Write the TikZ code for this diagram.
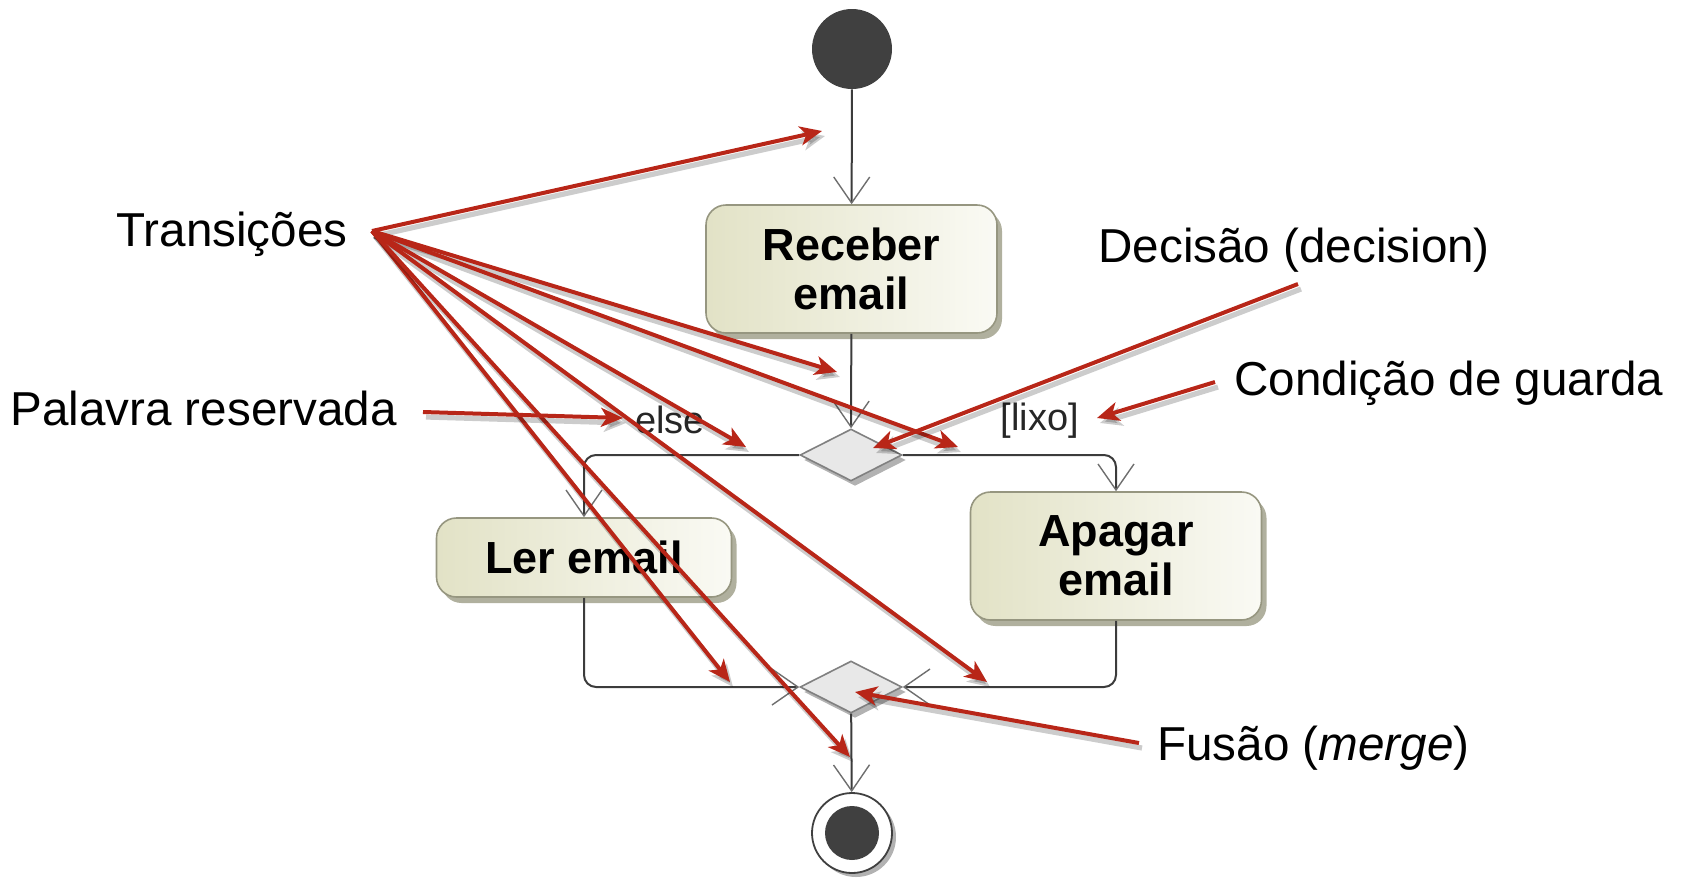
\documentclass[tikz,border=0pt]{standalone}
\usepackage{fontspec}
\setmainfont{Liberation Sans}
\usetikzlibrary{arrows.meta,shapes.geometric,shadows}

\definecolor{annred}{RGB}{184,38,24}
\definecolor{umlline}{RGB}{60,60,60}
\definecolor{umltip}{RGB}{110,110,110}
\definecolor{nodedark}{RGB}{64,64,64}
\definecolor{boxleft}{RGB}{226,226,198}
\definecolor{boxright}{RGB}{250,250,244}
\definecolor{boxborder}{RGB}{150,150,128}
\definecolor{boxshadow}{RGB}{176,176,158}
\definecolor{diafill}{RGB}{232,232,232}
\definecolor{diaborder}{RGB}{128,128,128}

\begin{document}
\begin{tikzpicture}[x=0.5pt,y=-0.5pt,
  action/.style={rectangle, rounded corners=10pt, draw=boxborder, line width=0.8pt,
    left color=boxleft, right color=boxright,
    drop shadow={shadow xshift=2.5pt, shadow yshift=-3pt, fill=boxshadow, opacity=1},
    inner sep=0pt, align=center, font=\fontsize{22.5}{24.5}\selectfont\bfseries},
  decision/.style={diamond, draw=diaborder, line width=0.8pt, fill=diafill,
    minimum width=51pt, minimum height=26pt, inner sep=0pt,
    drop shadow={shadow xshift=2pt, shadow yshift=-2.5pt, fill=black!30, opacity=1}},
  initial/.style={circle, fill=nodedark, minimum size=40pt, inner sep=0pt},
  final/.style={circle, draw=nodedark, line width=0.9pt, fill=white, minimum size=40pt, inner sep=0pt,
    drop shadow={shadow xshift=2pt, shadow yshift=-2pt, fill=black!30, opacity=1}},
  flow/.style={draw=umlline, line width=1pt,
    -{Straight Barb[length=13pt,width=18pt,line width=0.7pt,color=umltip]}},
  guard/.style={inner sep=0pt, text=black!85, font=\fontsize{19}{20}\selectfont},
  note/.style={inner sep=0pt, anchor=base west, font=\fontsize{23.8}{28}\selectfont},
  pointer/.style={draw=annred, line width=2pt,
    -{Stealth[length=11pt,width=9.5pt,inset=3pt]},
    preaction={draw=black, opacity=0.2, line width=2.6pt,
      transform canvas={xshift=1.5pt,yshift=-2.5pt}}}
]
\useasboundingbox (0,0) rectangle (1682,879);

% activity diagram
\node[initial] (start) at (852,49) {};
\node[action, minimum width=145.5pt, minimum height=64pt] (recv) at (851.5,269) {Receber\\email};
\node[decision] (dec) at (851,455) {};
\node[action, minimum width=147.5pt, minimum height=39.5pt] (ler) at (584,557.5) {Ler email};
\node[action, minimum width=145.5pt, minimum height=64pt] (apagar) at (1116,556) {Apagar\\email};
\node[decision] (merge) at (851,687) {};
\node[final] (end) at (852,833) {};
\fill[nodedark] (end.center) circle (13.5pt);

\draw[flow] (start) -- (recv);
\draw[flow] (recv) -- (dec);
\draw[flow, rounded corners=6pt] (dec.west) -| (ler.north);
\draw[flow, rounded corners=6pt] (dec.east) -| (apagar.north);
\draw[flow, rounded corners=6pt] (ler.south) |- (merge.west);
\draw[flow, rounded corners=6pt] (apagar.south) |- (merge.east);
\draw[flow] (merge) -- (end);

\node[guard] (else) at (670,420) {else};
\node[guard] (lixo) at (1040,421) {[lixo]};

% annotations
\node[note] (trans) at (116,246) {Transições};
\node[note] (palavra) at (10,425) {Palavra reservada};
\node[note] (decisao) at (1098,262) {Decisão (decision)};
\node[note] (condicao) at (1234,395) {Condição de guarda};
\node[note] (fusao) at (1157,760) {Fusão (\textit{merge})};

\coordinate (tsrc) at (372,231);
\coordinate (t1) at (822,131);
\coordinate (t2) at (837,372);
\coordinate (t3) at (958,447);
\coordinate (t4) at (746,447);
\coordinate (t5) at (987,682);
\coordinate (t6) at (730,682);
\coordinate (t7) at (850,757);
\foreach \t in {t1,t2,t3,t4,t5,t6,t7}
  \draw[pointer] (tsrc) -- (\t);

\coordinate (psrc) at (423,412);
\coordinate (ptip) at (623,418);
\draw[pointer] (psrc) -- (ptip);

\coordinate (dsrc) at (1298,284);
\coordinate (dtip) at (873,448);
\draw[pointer] (dsrc) -- (dtip);

\coordinate (csrc) at (1215,382);
\coordinate (ctip) at (1097,418);
\draw[pointer] (csrc) -- (ctip);

\coordinate (fsrc) at (1139,743);
\coordinate (ftip) at (855,692);
\draw[pointer] (fsrc) -- (ftip);
\end{tikzpicture}
\end{document}
